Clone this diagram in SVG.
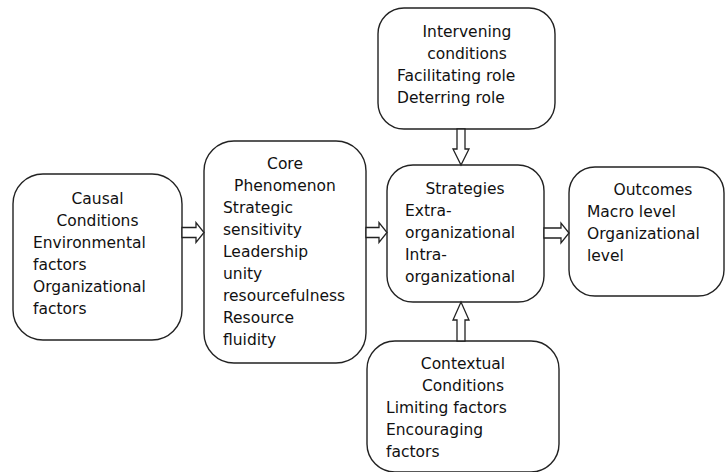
<svg xmlns="http://www.w3.org/2000/svg" width="725" height="472" viewBox="0 0 725 472">
<style>
.box{fill:#fff;stroke:#222;stroke-width:1.4}
.arr{fill:#fff;stroke:#222;stroke-width:1.3;stroke-linejoin:miter}
text{font-family:"DejaVu Sans",Verdana,sans-serif;font-size:15.5px;fill:#111}
.c{text-anchor:middle}
</style>
<rect width="725" height="472" fill="#fff"/>
<g id="causal">
<rect class="box" x="13" y="174" width="169" height="166" rx="30"/>
<text class="c" x="97.5" y="204">Causal</text>
<text class="c" x="97.5" y="226">Conditions</text>
<text x="33" y="248">Environmental</text>
<text x="33" y="270">factors</text>
<text x="33" y="292">Organizational</text>
<text x="33" y="314">factors</text>
</g>
<g id="core">
<rect class="box" x="204" y="141" width="162" height="222" rx="30"/>
<text class="c" x="285" y="169">Core</text>
<text class="c" x="285" y="191">Phenomenon</text>
<text x="223" y="213">Strategic</text>
<text x="223" y="235">sensitivity</text>
<text x="223" y="257">Leadership</text>
<text x="223" y="279">unity</text>
<text x="223" y="301">resourcefulness</text>
<text x="223" y="323">Resource</text>
<text x="223" y="345">fluidity</text>
</g>
<g id="intervening">
<rect class="box" x="378" y="8" width="177" height="121" rx="26"/>
<text class="c" x="467" y="37">Intervening</text>
<text class="c" x="467" y="59">conditions</text>
<text x="397" y="81">Facilitating role</text>
<text x="397" y="103">Deterring role</text>
</g>
<g id="strategies">
<rect class="box" x="387" y="165" width="157" height="137" rx="26"/>
<text class="c" x="465" y="194">Strategies</text>
<text x="405" y="216">Extra-</text>
<text x="405" y="238">organizational</text>
<text x="405" y="260">Intra-</text>
<text x="405" y="282">organizational</text>
</g>
<g id="outcomes">
<rect class="box" x="569" y="167" width="155" height="129" rx="26"/>
<text class="c" x="653" y="195">Outcomes</text>
<text x="587" y="217">Macro level</text>
<text x="587" y="239">Organizational</text>
<text x="587" y="261">level</text>
</g>
<g id="contextual">
<rect class="box" x="367" y="341" width="192" height="131" rx="28"/>
<text class="c" x="463" y="369">Contextual</text>
<text class="c" x="463" y="391">Conditions</text>
<text x="386" y="413">Limiting factors</text>
<text x="386" y="435">Encouraging</text>
<text x="386" y="457">factors</text>
</g>
<g id="connectors">
<polygon class="arr" points="182,227.5 196,227.5 196,222.5 204,232.5 196,242.5 196,237.5 182,237.5"/>
<polygon class="arr" points="366,227.5 379,227.5 379,222.5 387,232.5 379,242.5 379,237.5 366,237.5"/>
<polygon class="arr" points="544,228 561,228 561,223 569,233 561,243 561,238 544,238"/>
<polygon class="arr" points="457,129 465,129 465,149 469,149 461,165 453,149 457,149"/>
<polygon class="arr" points="457,341 465,341 465,320 469,320 461,302 453,320 457,320"/>
</g>
</svg>
